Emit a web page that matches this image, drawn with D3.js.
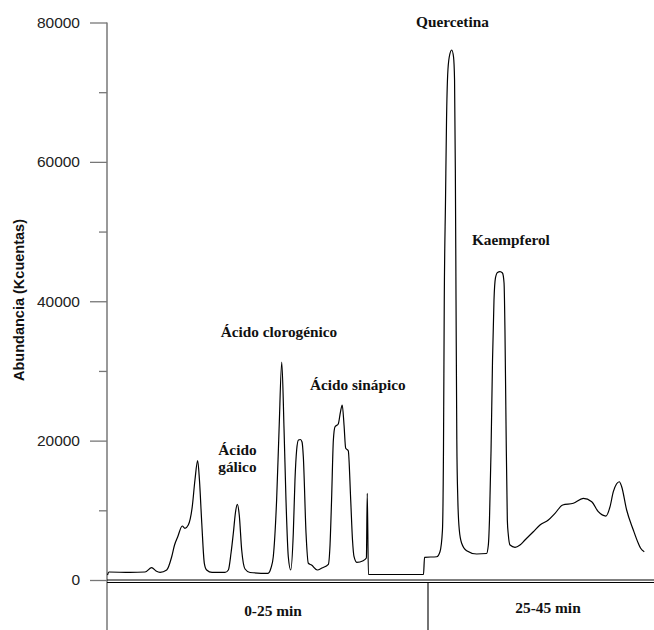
<!DOCTYPE html>
<html>
<head>
<meta charset="utf-8">
<script src="https://cdn.jsdelivr.net/npm/d3@7"></script>
<style>
  body { margin: 0; background: #fff; }
  svg { display: block; }
</style>
</head>
<body>
<div id="chart"></div>
<script>
const tiempo = [
  0.04, 0.15, 1.79, 2.96, 3.48, 3.82, 4.13, 4.65, 5.04, 5.26,
  5.51, 5.86, 6.07, 6.33, 6.64, 6.85, 7.06, 7.20, 7.38, 7.58,
  7.76, 8.18, 9.19, 9.45, 9.66, 9.84, 10.01, 10.15, 10.30, 10.49,
  10.75, 11.14, 12.54, 12.77, 12.95, 13.21, 13.40, 13.61, 13.79, 13.94,
  14.12, 14.31, 14.51, 14.64, 14.77, 14.91, 15.06, 15.19, 15.29, 15.50,
  15.68, 15.93, 16.38, 16.74, 17.24, 17.37, 17.49, 17.63, 17.76, 18.01,
  18.18, 18.32, 18.46, 18.59, 18.79, 18.98, 19.12, 19.24, 19.45, 19.95,
  20.20, 20.27, 20.36, 24.65, 24.73,
  25.77, 26.06, 26.28, 26.37, 26.44, 26.55, 26.64, 26.74, 26.88, 27.10,
  27.26, 27.35, 27.42, 27.48, 27.55, 27.64, 27.77, 27.98, 28.42, 29.31,
  30.18, 30.34, 30.44, 30.58, 30.71, 30.84, 30.97, 31.15, 31.37, 31.59,
  31.73, 31.81, 31.90, 32.02, 32.11, 32.26, 32.70, 33.14, 33.58, 34.32,
  34.91, 35.65, 36.24, 36.92, 37.86, 38.74, 39.49, 40.07, 40.75, 41.11,
  41.40, 41.68, 41.93, 42.14, 42.58, 43.17, 43.61, 43.82, 44.14
];
const abundancia = [
  720, 1150, 1080, 1150, 1770, 1290, 1100, 1435, 3340, 5020,
  6210, 7750, 7420, 7890, 10520, 14350, 17120, 14350, 8180, 2400,
  1435, 1080, 1080, 1435, 3875, 6745, 9760, 10860, 9330, 4300,
  1580, 1080, 960, 1720, 3340, 11480, 21525, 31280, 21525, 11480,
  3340, 1435, 6745, 14350, 18650, 20090, 20160, 19800, 17690, 6745,
  2400, 2150, 1435, 1720, 2250, 5020, 11480, 20090, 22000, 22390,
  24100, 25110, 22240, 18900, 18550, 11480, 5740, 3340, 2540, 2770,
  3160, 12440, 790, 790, 3260,
  3340, 4060, 7175, 18650, 40180, 54530, 66010, 72470, 75050, 76055,
  75050, 71750, 58840, 40180, 20090, 11480, 7175, 5270, 4200, 3730,
  3800, 5020, 8610, 18650, 31570, 40180, 43340, 44130, 44240, 44050,
  42620, 35875, 22960, 8610, 6460, 5020, 4690, 5020, 5740, 6930,
  7890, 8610, 9570, 10760, 11010, 11720, 11240, 9800, 9180, 10520,
  12670, 13780, 14100, 13390, 10045, 7175, 5270, 4550, 4060
];
const ticksMayores = [0, 20000, 40000, 60000, 80000];
const ticksMenores = [10000, 30000, 50000, 70000];
const tramos = ["0-25 min", "25-45 min"];
const compuestos = [
  { nombre: ["Quercetina"], t: 24.07, v: 79350 },
  { nombre: ["Kaempferol"], t: 28.89, v: 48070 },
  { nombre: ["Ácido clorogénico"], t: 8.85, v: 34910 },
  { nombre: ["Ácido sinápico"], t: 15.81, v: 27265 },
  { nombre: ["Ácido", "gálico"], t: 8.67, v: 17940 }
];

const width = 654;
const height = 630;
const serif = "'Liberation Serif', 'Times New Roman', serif";
const sans = "'Liberation Sans', Arial, sans-serif";

const svg = d3
  .select("#chart")
  .append("svg")
  .attr("width", width)
  .attr("height", height)
  .attr("viewBox", [0, 0, width, height]);

// dos cromatogramas pegados: cada tramo con su propia escala
const x = d3.scaleLinear().domain([0, 25, 45]).range([107, 428, 654]);
const y = d3.scaleLinear().domain([0, 80000]).range([580, 22.5]);

// eje y
svg
  .append("g")
  .attr("transform", "translate(107,0)")
  .call(
    d3.axisLeft(y).tickValues(ticksMayores).tickSize(17).tickPadding(10)
      .tickFormat(d3.format("d"))
  )
  .call((g) => g.select(".domain").remove())
  .call((g) => g.selectAll(".tick line").attr("stroke", "#777").attr("stroke-width", 1.3))
  .call((g) =>
    g.selectAll(".tick text")
      .attr("font-family", sans)
      .attr("font-size", 15.5)
      .attr("fill", "#222")
  );

svg
  .append("g")
  .attr("transform", "translate(107,0)")
  .call(d3.axisLeft(y).tickValues(ticksMenores).tickSize(8).tickFormat(""))
  .call((g) => g.select(".domain").remove())
  .call((g) => g.selectAll(".tick line").attr("stroke", "#777").attr("stroke-width", 1.3));

// linea vertical del eje, baja hasta el fondo de la caja
svg.append("line")
  .attr("x1", 107).attr("x2", 107)
  .attr("y1", y(80000)).attr("y2", height)
  .attr("stroke", "#777").attr("stroke-width", 1.5);

// doble linea del eje x y caja de tramos
svg.append("line")
  .attr("x1", 107).attr("x2", width)
  .attr("y1", y(0)).attr("y2", y(0))
  .attr("stroke", "#000").attr("stroke-width", 1.1);
svg.append("line")
  .attr("x1", 107).attr("x2", width)
  .attr("y1", y(0) + 2.5).attr("y2", y(0) + 2.5)
  .attr("stroke", "#000").attr("stroke-width", 1.1);
svg.append("line")
  .attr("x1", x(25)).attr("x2", x(25))
  .attr("y1", y(0) + 2.5).attr("y2", height)
  .attr("stroke", "#000").attr("stroke-width", 1.1);

svg.selectAll("text.tramo")
  .data(tramos)
  .join("text")
  .attr("class", "tramo")
  .attr("x", (d, i) => (i === 0 ? 273 : 548))
  .attr("y", (d, i) => (i === 0 ? 616 : 613))
  .attr("text-anchor", "middle")
  .attr("font-family", serif)
  .attr("font-weight", "bold")
  .attr("font-size", 15.4)
  .attr("fill", "#111")
  .text((d) => d);

// titulo eje y
svg.append("text")
  .attr("transform", "translate(24,300) rotate(-90)")
  .attr("text-anchor", "middle")
  .attr("font-family", sans)
  .attr("font-weight", "bold")
  .attr("font-size", 14.5)
  .attr("fill", "#111")
  .text("Abundancia (Kcuentas)");

// cromatograma
const datos = tiempo.map((t, i) => ({ t: t, v: abundancia[i] }));
const line = d3.line()
  .x((d) => x(d.t))
  .y((d) => y(d.v))
  .curve(d3.curveMonotoneX);

svg.append("path")
  .attr("fill", "none")
  .attr("stroke", "#000")
  .attr("stroke-width", 1.2)
  .attr("d", line(datos));

// etiquetas de compuestos
const etiquetas = svg.selectAll("text.compuesto")
  .data(compuestos)
  .join("text")
  .attr("class", "compuesto")
  .attr("x", (d) => x(d.t))
  .attr("y", (d) => y(d.v))
  .attr("font-family", serif)
  .attr("font-weight", "bold")
  .attr("font-size", 15.3)
  .attr("fill", "#111");

etiquetas.selectAll("tspan")
  .data((d) => d.nombre.map((n) => ({ n: n, x: x(d.t) })))
  .join("tspan")
  .attr("x", (d) => d.x)
  .attr("dy", (d, i) => (i === 0 ? 0 : 16.7))
  .text((d) => d.n);
</script>
</body>
</html>
